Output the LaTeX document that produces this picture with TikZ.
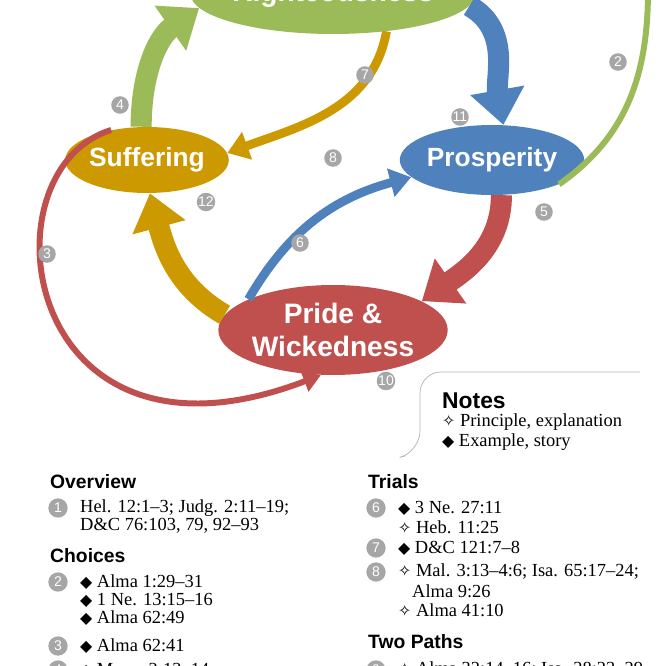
\documentclass[tikz,border=0pt]{standalone}
\usepackage{fontspec}
\setmainfont{Liberation Serif}
\setsansfont{Liberation Sans}
\newfontfamily\symfont{DejaVu Sans}
\usetikzlibrary{shapes.geometric,arrows.meta}
\definecolor{rgreen}{HTML}{9BBB59}
\definecolor{rgold}{HTML}{CC9900}
\definecolor{rblue}{HTML}{4F81BD}
\definecolor{rred}{HTML}{C0504D}
\definecolor{rgray}{HTML}{A6A6A6}
\tikzset{
  state/.style={ellipse, fill=#1, text=white, font=\sffamily\bfseries\fontsize{15}{17}\selectfont, inner sep=0pt},
  num/.style={circle, fill=rgray, text=white, font=\sffamily\fontsize{8}{8}\selectfont, minimum size=10pt, inner sep=0pt},
  head/.style={font=\sffamily\bfseries\fontsize{11}{12}\selectfont, anchor=west},
  item/.style={font=\fontsize{10.5}{11.5}\selectfont, anchor=west},
  big/.style={-{Triangle[width=30pt,length=20pt]}, line width=12pt},
  mid/.style={-{Triangle[width=16pt,length=12pt]}, line width=5pt},
  thin/.style={-{Triangle[width=12pt,length=10pt]}, line width=3.4pt},
}
\newcommand{\dia}{{\symfont\small ◆}}
\newcommand{\prin}{{\symfont\small ✧}}
\begin{document}
\begin{tikzpicture}[x=0.02cm,y=-0.02cm]
\useasboundingbox (0,0) rectangle (666,666);
\clip (0,0) rectangle (666,666);

\node[state=rgreen, minimum width=4.12cm, minimum height=1.6cm, font=\sffamily\bfseries\fontsize{16}{17}\selectfont] (rig) at (333,-6) {\raisebox{-5pt}{Righteousness}};
\node[state=rgold, minimum width=1.92cm, minimum height=1.32cm] (suf) at (147,160) {Suffering};
\node[state=rblue, minimum width=3cm, minimum height=1.4cm] (pros) at (492,160) {Prosperity};
\node[state=rred, minimum width=4.2cm, minimum height=1.8cm, align=center, font=\sffamily\bfseries\fontsize{16}{19}\selectfont] (pride) at (333,330) {Pride \&\\Wickedness};
\coordinate (top2) at (648,-10);

% arrows
\draw[rred, thin] (suf.140) .. controls (-20,170) and (20,490) .. (pride.-105);
\draw[rgreen, line width=3.4pt] (pros.-20) to[out=35,in=-90] (top2);
\draw[rgreen, big] (suf.100) to[out=90,in=215] (rig.186);
\draw[rblue, big] (rig.-5) to[out=-30,in=100] (pros.72);
\draw[rgold, mid] (rig.-35) to[out=-100,in=20] (suf.5);
\draw[rred, big] (pros.-75) to[out=-90,in=35] (pride.18);
\draw[rblue, mid] (pride.160) to[out=60,in=195] (pros.192);
\draw[rgold, big] (pride.172) to[out=150,in=-75] (suf.-85);

% number badges
\node[num] (n2) at (618,62) {2};
\node[num] (n3) at (47,254) {3};
\node[num] (n4) at (120,105) {4};
\node[num] (n5) at (544,212) {5};
\node[num] (n6) at (300,243) {6};
\node[num] (n7) at (365,75) {7};
\node[num] (n8) at (333,158) {8};
\node[num] (n10) at (386,381) {10};
\node[num] (n11) at (460,117) {11};
\node[num] (n12) at (206,202) {12};

% notes
\draw[gray!60, rounded corners=12pt] (640,372) -- (420,372) -- (420,452) -- (405,456);
\node[head, font=\sffamily\bfseries\fontsize{13}{14}\selectfont] (notes) at (436,401) {Notes};
\node[item] (np) at (436,422) {\prin\ Principle, explanation};
\node[item] (ne) at (436,442) {\dia\ Example, story};

% lists
\node[head] (h1) at (44,482) {Overview};
\node[num, minimum size=11pt] (l1) at (58,508) {1};
\node[item] at (74,508) {Hel. 12:1–3; Judg. 2:11–19;};
\node[item] at (74,526) {D\&C 76:103, 79, 92–93};
\node[head] (h2) at (44,556) {Choices};
\node[num, minimum size=11pt] (l2) at (58,582) {2};
\node[item] at (74,582) {\dia\ Alma 1:29–31};
\node[item] at (74,600) {\dia\ 1 Ne. 13:15–16};
\node[item] at (74,618) {\dia\ Alma 62:49};
\node[num, minimum size=11pt] (l3) at (58,646) {3};
\node[item] at (74,646) {\dia\ Alma 62:41};
\node[num, minimum size=11pt] (l4) at (58,670) {4};
\node[item] at (74,670) {\dia\ Moro. 2:12–14};

\node[head] (h3) at (362,482) {Trials};
\node[num, minimum size=11pt] (l6) at (376,508) {6};
\node[item] at (392,508) {\dia\ 3 Ne. 27:11};
\node[item] at (392,527) {\prin\ Heb. 11:25};
\node[num, minimum size=11pt] (l7) at (376,548) {7};
\node[item] at (392,548) {\dia\ D\&C 121:7–8};
\node[num, minimum size=11pt] (l8) at (376,572) {8};
\node[item] at (392,572) {\prin\ Mal. 3:13–4:6; Isa. 65:17–24;};
\node[item] at (406,591) {Alma 9:26};
\node[item] at (392,610) {\prin\ Alma 41:10};
\node[head] (h4) at (362,642) {Two Paths};
\node[num, minimum size=11pt] (l9) at (376,670) {9};
\node[item] at (392,670) {\prin\ Alma 32:14–16; Isa. 28:23–29};
\end{tikzpicture}
\end{document}
